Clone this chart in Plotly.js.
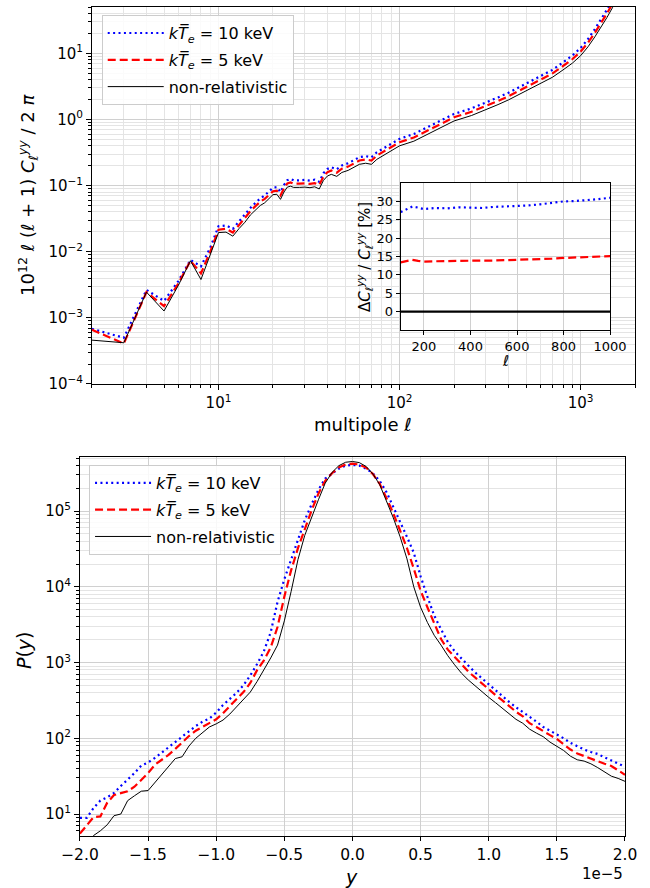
<!DOCTYPE html>
<html><head><meta charset="utf-8">
<script src="https://cdn.plot.ly/plotly-3.0.1.min.js"></script>
<style>html,body{margin:0;padding:0;background:#fff;}#chart{width:650px;height:888px;}</style>
</head><body><div id="chart"></div>
<script>
// ---------- Top panel: angular power spectrum ----------
const ell = [2,3,4,5,6,7,8,9,10,11,12,13,14,15,16,17,18,19,20,21,22,23,24,25,26,
  28,30,32,34,36,38,40,42,45,48,
  52,56,60,65,70,75,80,90,100,
  120,150,175,200,250,300,350,400,450,500,
  600,700,800,900,1000,1100,1200,1300,1400,1500,1600];
const clNonRel = [4.6e-4,4.2e-4,2.45e-3,1.27e-3,3.1e-3,7.3e-3,3.8e-3,9.0e-3,0.0195,0.0198,0.0172,0.0225,0.028,0.036,0.043,0.050,0.055,0.064,0.073,0.074,0.062,0.080,0.095,0.098,0.094,
  0.094,0.095,0.093,0.096,0.089,0.120,0.140,0.148,0.138,0.158,
  0.170,0.190,0.210,0.218,0.210,0.250,0.277,0.330,0.400,
  0.470,0.640,0.790,0.950,1.15,1.40,1.68,1.98,2.35,2.73,
  3.54,4.36,5.62,7.1,9.2,12.6,17.8,25,35,49,70];
const cl5keV = [6.6e-4,4.1e-4,2.45e-3,1.5e-3,3.3e-3,7.3e-3,4.7e-3,1.0e-2,0.0215,0.0222,0.0195,0.0255,0.032,0.041,0.049,0.057,0.063,0.073,0.082,0.084,0.071,0.091,0.108,0.112,0.107,
  0.107,0.108,0.106,0.109,0.102,0.137,0.160,0.169,0.157,0.180,
  0.194,0.217,0.240,0.249,0.240,0.285,0.316,0.376,0.453,
  0.535,0.730,0.898,1.079,1.308,1.593,1.911,2.253,2.676,3.109,
  4.036,4.98,6.44,8.15,10.6,14.5,20.5,28.8,40.3,56.4,80.5];
const cl10keV = [6.8e-4,5.0e-4,2.65e-3,1.8e-3,3.6e-3,7.5e-3,6.0e-3,1.15e-2,0.0243,0.0250,0.0222,0.029,0.036,0.046,0.055,0.064,0.071,0.082,0.093,0.095,0.080,0.102,0.121,0.126,0.120,
  0.120,0.122,0.119,0.123,0.114,0.154,0.179,0.189,0.177,0.202,
  0.218,0.243,0.269,0.279,0.269,0.320,0.355,0.422,0.509,
  0.604,0.823,1.01,1.215,1.474,1.793,2.158,2.538,3.013,3.508,
  4.56,5.63,7.31,9.25,12.05,16.5,23.3,32.8,45.9,64.2,92];

// ---------- Inset: relative difference [%] ----------
const insetEll = [100,125,150,175,200,250,300,350,400,450,500,550,600,650,700,750,800,850,900,950,1000];
const insetDiff10 = [27.1,27.9,28.6,28.3,27.9,28.2,28.1,28.4,28.2,28.2,28.5,28.6,28.8,28.9,29.2,29.6,30.0,30.1,30.3,30.6,31.0];
const insetDiff5 = [13.4,13.7,14.1,13.8,13.6,13.7,13.8,13.8,13.8,13.9,13.9,14.0,14.0,14.1,14.2,14.4,14.6,14.7,14.8,15.0,15.1];
const insetDiffNonRel = [0,0,0,0,0,0,0,0,0,0,0,0,0,0,0,0,0,0,0,0,0];

// ---------- Bottom panel: one-point PDF (y in units of 1e-5) ----------
const yBins = [-2.00,-1.95,-1.90,-1.85,-1.80,-1.75,-1.70,-1.65,-1.60,-1.55,
  -1.50,-1.45,-1.40,-1.35,-1.30,-1.25,-1.20,-1.15,-1.10,-1.05,
  -1.00,-0.95,-0.90,-0.85,-0.80,-0.75,-0.70,-0.65,-0.60,-0.55,
  -0.50,-0.45,-0.40,-0.35,-0.30,-0.25,-0.20,-0.15,-0.10,-0.05,
  0.00,
  0.05,0.10,0.15,0.20,0.25,0.30,0.35,0.40,0.45,0.50,
  0.55,0.60,0.65,0.70,0.75,0.80,0.85,0.90,0.95,1.00,
  1.05,1.10,1.15,1.20,1.25,1.30,1.35,1.40,1.45,1.50,
  1.55,1.60,1.65,1.70,1.75,1.80,1.85,1.90,1.95,2.00];
const pNonRel = [3.5,4.2,5.2,6.0,7.2,9.5,10,15,17.4,20,
  20.4,26,33,43,54,57,79,100,120,141,
  155,174,209,263,331,407,562,794,1150,1700,
  3550,8710,22900,47900,83200,141000,234000,324000,398000,442000,
  452000,
  437000,389000,309000,224000,138000,81300,45700,23400,10000,5370,
  3390,2290,1700,1230,933,724,589,490,417,347,
  295,251,214,178,158,132,117,105,89,78,
  69,58,52,50,46,41,35.5,31.6,29.5,27];
const p5keV = [5.5,7.1,9.1,9.3,14.1,17.8,19,20,22.9,28.2,
  34.7,44.7,51.3,60.3,72.4,89,107,126,141,158,
  178,214,269,331,407,537,794,1070,1580,2950,
  7410,16600,32400,58900,102000,170000,251000,316000,376000,412000,
  424000,
  412000,376000,309000,229000,148000,93300,55000,32400,17400,8910,
  5370,3310,2040,1480,1170,955,759,631,525,437,
  372,316,263,224,195,158,141,126,110,98,
  83,71,63,58,54,50,46,43,38,33];
const p10keV = [8.9,8.9,12,15.1,16.6,19,23.4,28.2,34.7,43.7,
  47.9,55,64.6,77.6,91,107,126,145,166,182,
  219,275,331,398,501,676,955,1410,2510,6310,
  12600,22900,42700,75900,123000,191000,269000,316000,363000,398000,
  407000,
  398000,363000,316000,251000,178000,115000,72400,45700,28200,13800,
  7410,4170,2750,1860,1410,1120,912,741,617,513,
  437,363,302,257,224,191,166,141,126,112,
  100,87,78,71,66,62,56,51,46,42];

// ---------- Tick labels ----------
const topXTickVals = [10,100,1000];
const topXTickText = ['10<sup>1</sup>','10<sup>2</sup>','10<sup>3</sup>'];
const topYTickVals = [1e-4,1e-3,1e-2,1e-1,1,10];
const topYTickText = ['10<sup>−4</sup>','10<sup>−3</sup>','10<sup>−2</sup>','10<sup>−1</sup>','10<sup>0</sup>','10<sup>1</sup>'];
const botYTickVals = [10,100,1000,1e4,1e5];
const botYTickText = ['10<sup>1</sup>','10<sup>2</sup>','10<sup>3</sup>','10<sup>4</sup>','10<sup>5</sup>'];
const botXTickVals = [-2.0,-1.5,-1.0,-0.5,0.0,0.5,1.0,1.5,2.0];
const insetXTickVals = [200,400,600,800,1000];
const insetYTickVals = [0,5,10,15,20,25,30];

const labels10 = '<i>kT\u0305</i><sub><i>e</i></sub> = 10 keV';
const labels5 = '<i>kT\u0305</i><sub><i>e</i></sub> = 5 keV';
const labelsNR = 'non-relativistic';

function minorLog(lo, hi) {
  const v = [];
  for (let d = lo; d <= hi; d++) for (let m = 2; m <= 9; m++) v.push(m * Math.pow(10, d));
  return v;
}

const FONT = 'DejaVu Sans';
const BLUE = '#0000ff', RED = '#ff0000', BLACK = '#000000';
const DOT = '2px,3.4px', DASH = '8px,4px';
const gridMajor = '#d0d0d0', gridMinor = '#e4e4e4';

function axBase(extra) {
  return Object.assign({
    showline: true, linecolor: '#000', linewidth: 1, mirror: true,
    ticks: 'outside', ticklen: 5, tickwidth: 1, tickcolor: '#000',
    showgrid: true, gridcolor: gridMajor, gridwidth: 1, zeroline: false,
    tickfont: {family: FONT, size: 15, color: '#000'},
    automargin: false, fixedrange: true
  }, extra);
}

const traces = [
  {x: ell, y: cl10keV, xaxis: 'x', yaxis: 'y', mode: 'lines', name: labels10, legendgroup: 'a',
   line: {color: BLUE, width: 2.2, dash: DOT}, legend: 'legend'},
  {x: ell, y: cl5keV, xaxis: 'x', yaxis: 'y', mode: 'lines', name: labels5, legendgroup: 'b',
   line: {color: RED, width: 2.2, dash: DASH}, legend: 'legend'},
  {x: ell, y: clNonRel, xaxis: 'x', yaxis: 'y', mode: 'lines', name: labelsNR, legendgroup: 'c',
   line: {color: BLACK, width: 1}, legend: 'legend'},

  {x: yBins, y: p10keV, xaxis: 'x2', yaxis: 'y2', mode: 'lines', name: labels10, legendgroup: 'd',
   line: {color: BLUE, width: 2.2, dash: DOT}, legend: 'legend2'},
  {x: yBins, y: p5keV, xaxis: 'x2', yaxis: 'y2', mode: 'lines', name: labels5, legendgroup: 'e',
   line: {color: RED, width: 2.2, dash: DASH}, legend: 'legend2'},
  {x: yBins, y: pNonRel, xaxis: 'x2', yaxis: 'y2', mode: 'lines', name: labelsNR, legendgroup: 'f',
   line: {color: BLACK, width: 1}, legend: 'legend2'},

  {x: insetEll, y: insetDiff10, xaxis: 'x3', yaxis: 'y3', mode: 'lines', showlegend: false,
   line: {color: BLUE, width: 2.2, dash: DOT}},
  {x: insetEll, y: insetDiff5, xaxis: 'x3', yaxis: 'y3', mode: 'lines', showlegend: false,
   line: {color: RED, width: 2.2, dash: DASH}},
  {x: insetEll, y: insetDiffNonRel, xaxis: 'x3', yaxis: 'y3', mode: 'lines', showlegend: false,
   line: {color: BLACK, width: 2.2}}
];

const legendBase = {
  xanchor: 'left', yanchor: 'top', bgcolor: 'rgba(255,255,255,0.85)',
  bordercolor: '#cccccc', borderwidth: 1, tracegroupgap: 3,
  font: {family: FONT, size: 16, color: '#000'}, itemwidth: 56
};

const ann = (text, x, y, size, extra) => Object.assign({
  text: text, x: x, y: y, xref: 'paper', yref: 'paper', showarrow: false,
  font: {family: FONT, size: size, color: '#000'}, xanchor: 'center', yanchor: 'middle'
}, extra || {});

const layout = {
  width: 650, height: 888,
  margin: {l: 0, r: 0, t: 0, b: 0},
  paper_bgcolor: '#fff', plot_bgcolor: '#fff',
  font: {family: FONT, color: '#000'},
  showlegend: true,
  xaxis: axBase({type: 'log', domain: [0.1415, 0.977], range: [Math.log10(2), Math.log10(2000)],
    anchor: 'y', tickmode: 'array', tickvals: topXTickVals, ticktext: topXTickText,
    minor: {tickmode: 'array', tickvals: minorLog(0, 3), ticks: 'outside', ticklen: 3,
      tickcolor: '#000', showgrid: true, gridcolor: gridMinor}}),
  yaxis: axBase({type: 'log', domain: [0.5676, 0.992], range: [-4, 1.7],
    anchor: 'x', tickmode: 'array', tickvals: topYTickVals, ticktext: topYTickText,
    minor: {tickmode: 'array', tickvals: minorLog(-4, 1), ticks: 'outside', ticklen: 3,
      tickcolor: '#000', showgrid: true, gridcolor: gridMinor}}),
  xaxis2: axBase({domain: [0.123, 0.9615], range: [-2, 2], anchor: 'y2', ticklen: 4,
    tickmode: 'array', tickvals: botXTickVals, tickformat: '.1f',
    tickfont: {family: FONT, size: 15.5, color: '#000'}}),
  yaxis2: axBase({type: 'log', domain: [0.0586, 0.4854], range: [0.71, 5.715],
    anchor: 'x2', tickmode: 'array', tickvals: botYTickVals, ticktext: botYTickText,
    minor: {tickmode: 'array', tickvals: minorLog(0, 5), ticks: 'outside', ticklen: 3,
      tickcolor: '#000', showgrid: true, gridcolor: gridMinor}}),
  xaxis3: axBase({domain: [0.6165, 0.9385], range: [100, 1000], anchor: 'y3', ticklen: 4,
    tickmode: 'array', tickvals: insetXTickVals, tickfont: {family: FONT, size: 13, color: '#000'}}),
  yaxis3: axBase({domain: [0.6284, 0.7939], range: [-5, 35], anchor: 'x3', ticklen: 4,
    tickmode: 'array', tickvals: insetYTickVals, tickfont: {family: FONT, size: 13, color: '#000'}}),
  legend: Object.assign({}, legendBase, {x: 0.1565, y: 0.983}),
  legend2: Object.assign({}, legendBase, {x: 0.137, y: 0.4764}),
  annotations: [
    ann('multipole <i>ℓ</i>', 0.5585, 0.5225, 18),
    ann('10<sup>12</sup> <i>ℓ</i> (<i>ℓ</i> + 1) <i>C</i><sub><i>ℓ</i></sub><sup><i>yy</i></sup> / 2 <i>π</i>', 0.043, 0.7804, 18, {textangle: -90}),
    ann('Δ<i>C</i><sub><i>ℓ</i></sub><sup><i>yy</i></sup> / <i>C</i><sub><i>ℓ</i></sub><sup><i>yy</i></sup> [%]', 0.5615, 0.7106, 15, {textangle: -90}),
    ann('<i>ℓ</i>', 0.777, 0.5935, 15),
    ann('<i>P</i>(<i>y</i>)', 0.037, 0.268, 19, {textangle: -90}),
    ann('<i>y</i>', 0.5415, 0.0124, 19),
    ann('1e−5', 0.9615, 0.0155, 15, {xanchor: 'right'})
  ]
};

Plotly.newPlot('chart', traces, layout, {staticPlot: true, displayModeBar: false});
</script>
</body></html>
